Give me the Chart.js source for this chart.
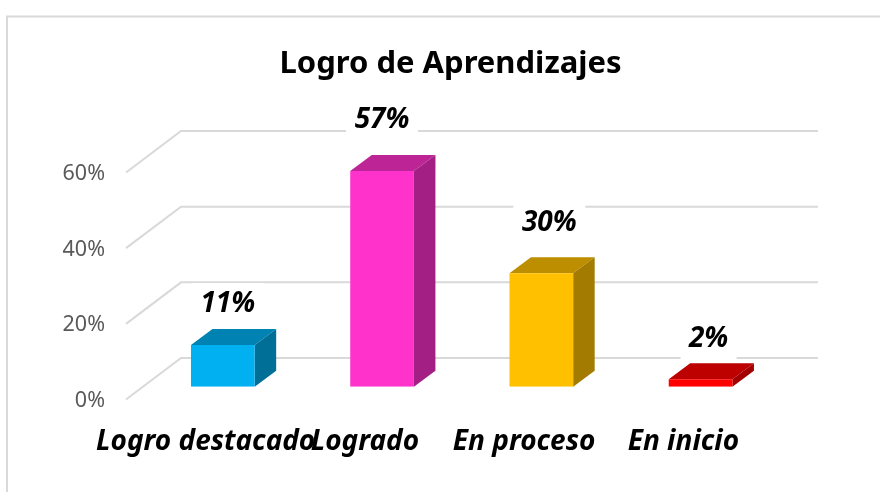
<!DOCTYPE html>
<html><head><meta charset="utf-8">
<style>html,body{margin:0;padding:0;background:#fff}#w{width:880px;height:492px;position:relative}</style>
<script src="https://cdn.jsdelivr.net/npm/chart.js@4"></script>
</head><body><div id="w"><canvas id="c" width="880" height="492"></canvas></div>
<script>
const categories = ["Logro destacado","Logrado","En proceso","En inicio"];
const values = [11,57,30,2];
const valueLabels = ["11%","57%","30%","2%"];
const frontColors = ["#00B0F0","#FF33CC","#FFC000","#FF0000"];
const topColors = ["#0082B2","#BD2597","#BD8E00","#BD0000"];
const sideColors = ["#006F98","#A41F83","#A27B00","#A30000"];
const labelShiftX = [5,0,8,8];
const labelShiftY = [-41,-51,-50,-40];
const labelBoxW = [72,72,72,56];
const FONT = '"Noto Sans"';
const floorDX = 55, floorDY = 41.5;
const barDX = 17.2, barDY = 12.8, depthX = 21.5, depthY = 16;

const threeD = {
  id:'threeD',
  beforeDraw(chart){
    const c = chart.ctx;
    c.save(); c.fillStyle='#fff'; c.fillRect(0,0,chart.width,chart.height);
    c.strokeStyle='#D9D9D9'; c.lineWidth=2;
    c.beginPath(); c.moveTo(7,492); c.lineTo(7,16.5); c.lineTo(880,16.5); c.stroke();
    c.restore();
  },
  afterLayout(chart){
    const t = chart.titleBlock;
    t.left += 69; t.right += 69;
  },
  beforeDatasetsDraw(chart){
    const c = chart.ctx, y = chart.scales.y, a = chart.chartArea;
    c.save(); c.strokeStyle='#D9D9D9'; c.lineWidth=2; c.beginPath();
    y.ticks.forEach(t=>{
      const py = y.getPixelForValue(t.value);
      c.moveTo(a.left,py);
      c.lineTo(a.left+floorDX,py-floorDY);
      c.lineTo(a.right+floorDX,py-floorDY);
    });
    c.stroke(); c.restore();
  },
  beforeDatasetDraw(chart){
    const c = chart.ctx, els = chart.getDatasetMeta(0).data;
    c.save(); c.translate(barDX,-barDY);
    els.forEach((e,i)=>{
      const l=e.x-e.width/2, r=e.x+e.width/2, t=e.y, b=e.base;
      c.fillStyle=topColors[i]; c.beginPath();
      c.moveTo(l,t); c.lineTo(l+depthX,t-depthY); c.lineTo(r+depthX,t-depthY); c.lineTo(r,t); c.closePath(); c.fill();
      c.fillStyle=sideColors[i]; c.beginPath();
      c.moveTo(r,t); c.lineTo(r+depthX,t-depthY); c.lineTo(r+depthX,b-depthY); c.lineTo(r,b); c.closePath(); c.fill();
    });
  },
  afterDatasetDraw(chart){ chart.ctx.restore(); },
  afterDatasetsDraw(chart){
    const c = chart.ctx, els = chart.getDatasetMeta(0).data;
    c.save();
    c.font='italic bold 28px '+FONT; c.textAlign='center'; c.textBaseline='middle';
    els.forEach((e,i)=>{
      const x=e.x+barDX+labelShiftX[i], yy=e.y-barDY+labelShiftY[i];
      c.fillStyle='#fff'; c.fillRect(x-labelBoxW[i]/2,yy-21,labelBoxW[i],42);
      c.fillStyle='#000'; c.fillText(valueLabels[i],x,yy);
    });
    c.restore();
  }
};

new Chart(document.getElementById('c'),{
  type:'bar',
  data:{labels:categories,datasets:[{data:values,backgroundColor:frontColors,borderWidth:0,barPercentage:0.4,categoryPercentage:1}]},
  plugins:[threeD],
  options:{
    responsive:false,animation:false,
    layout:{padding:{left:0,right:117,top:0,bottom:0}},
    plugins:{
      legend:{display:false},tooltip:{enabled:false},
      title:{display:true,text:"Logro de Aprendizajes",color:'#000',
        font:{family:FONT,size:31,weight:'bold',lineHeight:1.2},
        padding:{top:45.5,bottom:89.8}}
    },
    scales:{
      y:{min:0,max:60,afterFit(s){s.width=126;},
        grid:{display:false,drawTicks:false},border:{display:false},
        ticks:{stepSize:20,padding:21,labelOffset:1.5,color:'#595959',font:{family:FONT,size:21.5},callback:v=>v+'%'}},
      x:{afterFit(s){s.height=92.5;},
        grid:{display:false,drawTicks:false},border:{display:false},
        ticks:{padding:26,color:'#000',maxRotation:0,minRotation:0,autoSkip:false,
          font:{family:FONT,size:28,style:'italic',weight:'bold'}}}
    }
  }
});
</script></body></html>
